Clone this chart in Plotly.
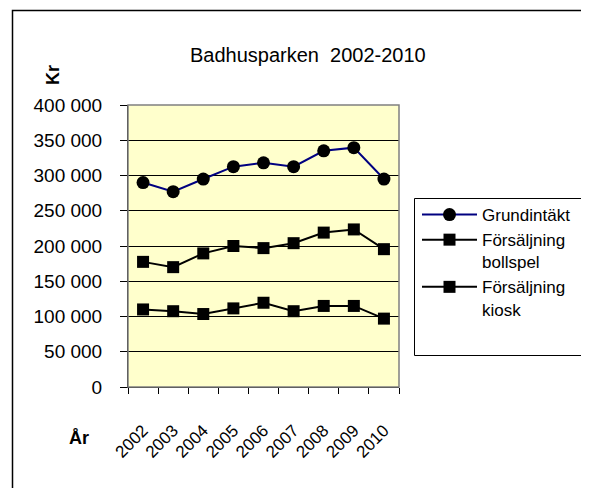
import plotly.graph_objects as go

years = ["2002", "2003", "2004", "2005", "2006", "2007", "2008", "2009", "2010"]
grundintakt = [290000, 277000, 295000, 312500, 318000, 312500, 335000, 339500, 295000]
bollspel = [177500, 170000, 189500, 200000, 197000, 204000, 219000, 223500, 195500]
kiosk = [110000, 107500, 103500, 111500, 119500, 107500, 115000, 115000, 97000]
y_tickvals = [0, 50000, 100000, 150000, 200000, 250000, 300000, 350000, 400000]
y_ticktext = ["0", "50 000", "100 000", "150 000", "200 000", "250 000", "300 000", "350 000", "400 000"]

FONT = "Liberation Sans, Arial, sans-serif"
OFF = 8  # default page body margin of the browser
W, H = 589 - OFF, 488 - OFF
# plot area in window pixels
L, R, T, B = 128, 399, 105, 387
pw, ph = R - L, B - T


def px_x(p):
    return (p - L) / pw


def px_y(p):
    return (B - p) / ph


fig = go.Figure()
fig.add_trace(go.Scatter(
    x=years, y=grundintakt, name="Grundintäkt", mode="lines+markers",
    line=dict(color="#000080", width=2),
    marker=dict(symbol="circle", size=13, color="#000000"),
))
fig.add_trace(go.Scatter(
    x=years, y=bollspel, name="Försäljning<br>bollspel", mode="lines+markers",
    line=dict(color="#000000", width=2),
    marker=dict(symbol="square", size=12, color="#000000"),
))
fig.add_trace(go.Scatter(
    x=years, y=kiosk, name="Försäljning<br>kiosk", mode="lines+markers",
    line=dict(color="#000000", width=2),
    marker=dict(symbol="square", size=12, color="#000000"),
))

shapes = [
    # outer chart border (extends beyond the visible image on right/bottom)
    dict(type="rect", xref="paper", yref="paper",
         x0=px_x(12.5), x1=px_x(610), y0=px_y(510), y1=px_y(10.5),
         line=dict(color="#000000", width=1.5), layer="above"),
    # plot area border
    dict(type="rect", xref="paper", yref="paper",
         x0=0, x1=1, y0=0, y1=1,
         line=dict(color="#808080", width=1.5), layer="above"),
    # legend border
    dict(type="rect", xref="paper", yref="paper",
         x0=px_x(414.5), x1=px_x(587.5), y0=px_y(355.5), y1=px_y(198.5),
         line=dict(color="#000000", width=1), fillcolor="rgba(0,0,0,0)", layer="above"),
]

annotations = [
    dict(text="Badhusparken  2002-2010", xref="paper", yref="paper",
         x=px_x(308), y=px_y(55), xanchor="center", yanchor="middle",
         showarrow=False, font=dict(family=FONT, size=20, color="#000000")),
    dict(text="<b>Kr</b>", xref="paper", yref="paper",
         x=px_x(53), y=px_y(75), xanchor="center", yanchor="middle", textangle=-90,
         showarrow=False, font=dict(family=FONT, size=18, color="#000000")),
    dict(text="<b>År</b>", xref="paper", yref="paper",
         x=px_x(79), y=px_y(438), xanchor="center", yanchor="middle",
         showarrow=False, font=dict(family=FONT, size=18, color="#000000")),
]

fig.update_layout(
    width=W, height=H,
    margin=dict(l=L - OFF, r=W - (R - OFF), t=T - OFF, b=H - (B - OFF), autoexpand=False),
    paper_bgcolor="#FFFFFF",
    plot_bgcolor="#FFFFCC",
    font=dict(family=FONT, size=18, color="#000000"),
    showlegend=True,
    legend=dict(
        x=px_x(417), y=px_y(197), xanchor="left", yanchor="top",
        bgcolor="rgba(0,0,0,0)", borderwidth=0,
        font=dict(family=FONT, size=17, color="#000000"),
        itemwidth=55, valign="top", tracegroupgap=0,
    ),
    shapes=shapes,
    annotations=annotations,
)
fig.update_xaxes(
    type="category", range=[-0.5, 8.5],
    showline=True, linecolor="#000000", linewidth=1,
    ticks="outside", ticklen=6, tickcolor="#000000", tickson="boundaries",
    tickangle=-45, showgrid=False, zeroline=False,
    ticklabelstandoff=26,
    tickfont=dict(family=FONT, size=17, color="#000000"),
)
fig.update_yaxes(
    range=[0, 400000], tickvals=y_tickvals, ticktext=y_ticktext,
    showline=True, linecolor="#000000", linewidth=1,
    ticks="outside", ticklen=7, tickcolor="#000000",
    showgrid=True, gridcolor="#000000", gridwidth=1, zeroline=False,
    ticklabelstandoff=14,
    tickfont=dict(family=FONT, size=19, color="#000000"),
)

fig.write_html("out.html")
